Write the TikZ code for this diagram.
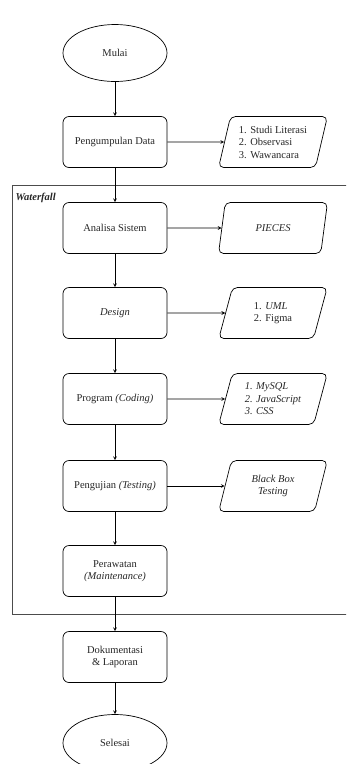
\documentclass[tikz,border=0pt]{standalone}
\usepackage{fontspec}
\setmainfont{Liberation Serif}
\usetikzlibrary{shapes.geometric}
\begin{document}
\begin{tikzpicture}[
  x=1pt, y=1pt, line width=0.7pt,
  every node/.style={font=\fontsize{10.5}{12.5}\selectfont, text=black!85},
  term/.style={ellipse, draw, minimum width=104pt, minimum height=57pt, inner sep=0pt},
  proc/.style={rectangle, draw, rounded corners=6pt, minimum width=104pt, minimum height=51pt, align=center},
  io/.style={trapezium, trapezium left angle=74, trapezium right angle=106, trapezium stretches=true,
    draw, rounded corners=5pt, minimum width=109pt, minimum height=51pt, inner sep=1pt},
  >=stealth
]
  \useasboundingbox (0,0) rectangle (346,-764);
  \begin{scope}
  \clip (0,0) rectangle (346,-764);
  % Waterfall frame
  \draw[black!70] (12,-185) rectangle (360,-614);
  \node[anchor=west, font=\fontsize{10.5}{12.5}\selectfont\bfseries\itshape] (wf) at (12,-198) {Waterfall};
  \node[term] (mulai) at (115,-53) {Mulai};
  \node[proc] (kumpul) at (115,-142) {Pengumpulan Data};
  \node[io, align=left] (metode) at (273,-142) {1. Studi Literasi\\2. Observasi\\3. Wawancara};
  \node[proc] (analisa) at (115,-228) {Analisa Sistem};
  \node[io] (pieces) at (273,-228) {\itshape PIECES};
  \node[proc] (design) at (115,-313) {\itshape Design};
  \node[io, align=left] (uml) at (273,-313) {1. \textit{UML}\\2. Figma};
  \node[proc] (program) at (115,-399) {Program \textit{(Coding)}};
  \node[io, align=left, font=\fontsize{10.5}{12.5}\selectfont\itshape] (tools) at (273,-399) {1. MySQL\\2. JavaScript\\3. CSS};
  \node[proc] (uji) at (115,-486) {Pengujian \textit{(Testing)}};
  \node[io, align=center, font=\fontsize{10.5}{12.5}\selectfont\itshape] (blackbox) at (273,-486) {Black Box\\Testing};
  \node[proc] (rawat) at (115,-571) {Perawatan\\\textit{(Maintenance)}};
  \node[proc] (dokumen) at (115,-657) {Dokumentasi\\\& Laporan};
  \node[term] (selesai) at (115,-743) {Selesai};
  % main flow
  \draw[->] (mulai) -- (kumpul);
  \draw[->] (kumpul) -- (analisa);
  \draw[->] (analisa) -- (design);
  \draw[->] (design) -- (program);
  \draw[->] (program) -- (uji);
  \draw[->] (uji) -- (rawat);
  \draw[->] (rawat) -- (dokumen);
  \draw[->] (dokumen) -- (selesai);
  % outputs
  \draw[->] (kumpul) -- (metode);
  \draw[->] (analisa) -- (pieces);
  \draw[->] (design) -- (uml);
  \draw[->] (program) -- (tools);
  \draw[->] (uji) -- (blackbox);
  \end{scope}
\end{tikzpicture}
\end{document}
